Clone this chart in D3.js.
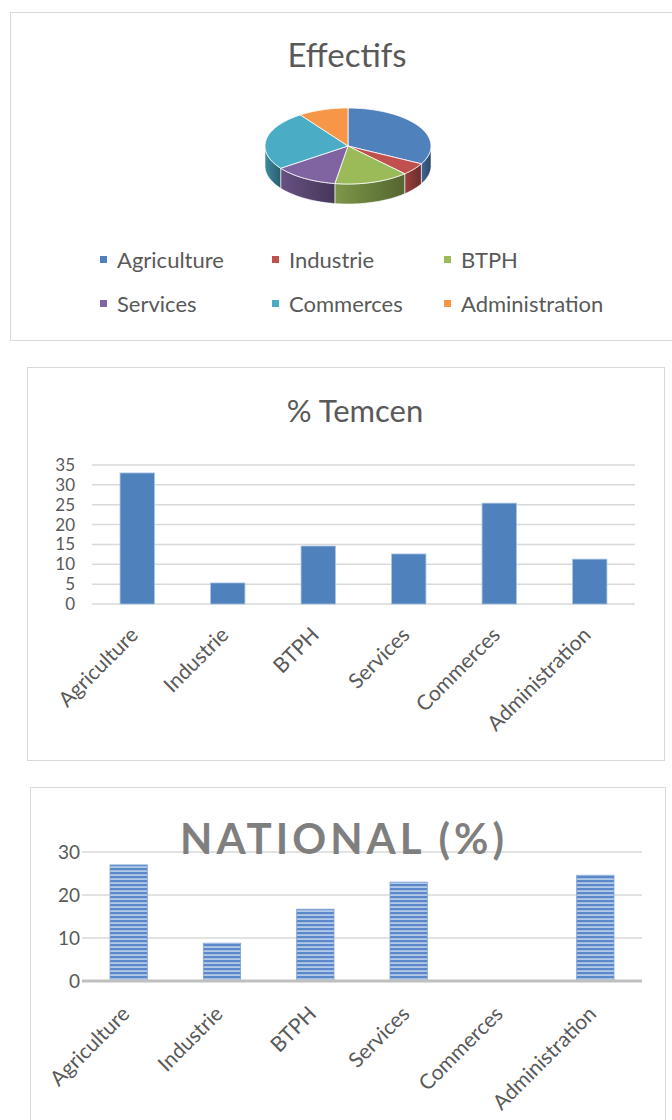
<!DOCTYPE html>
<html>
<head>
<meta charset="utf-8">
<script src="https://cdn.jsdelivr.net/npm/d3@7.9.0/dist/d3.min.js"></script>
<style>
  body { margin: 0; background: #fff; }
  text { font-family: Lato, "Open Sans", sans-serif; }
</style>
</head>
<body>
<svg id="page" width="672" height="1120"></svg>
<script>
const categories = ['Agriculture', 'Industrie', 'BTPH', 'Services', 'Commerces', 'Administration'];
const effectifs = [33, 5.3, 14.6, 12.6, 25.4, 9.8];
const tlemcen = [33, 5.3, 14.6, 12.6, 25.4, 11.3];
const national = [27, 8.8, 16.7, 23, 0, 24.6];
const tlemcenTicks = [0, 5, 10, 15, 20, 25, 30, 35];
const nationalTicks = [0, 10, 20, 30];
const pieColors = ['#4f81bd', '#c0504d', '#9bbb59', '#8064a2', '#4bacc6', '#f79646'];

const svg = d3.select('#page');
const defs = svg.append('defs');
const textCol = '#595959';
const gridCol = '#d9d9d9';

// frames
const frames = [[10, 12, 672, 340], [27, 367, 664, 760], [30, 787, 665, 1125]];
svg.selectAll('rect.frame')
  .data(frames)
  .join('rect')
  .attr('class', 'frame')
  .attr('x', d => d[0] + 0.5).attr('y', d => d[1] + 0.5)
  .attr('width', d => d[2] - d[0]).attr('height', d => d[3] - d[1])
  .attr('fill', '#fff').attr('stroke', gridCol);

// ---------- chart 1 : 3D pie ----------
svg.append('text').attr('x', 347).attr('y', 67).attr('text-anchor', 'middle')
  .attr('font-size', 33).attr('fill', textCol).text('Effectifs');

const cx = 348, cy = 146, rx = 83, ry = 38, depth = 20;
const pt = (a, dy = 0) => [cx + rx * Math.sin(a), cy - ry * Math.cos(a) + dy];
const arcPts = (s, e, dy) => d3.range(0, 41).map(i => pt(s + (e - s) * i / 40, dy));

const slices = d3.pie().sort(null).value(d => d)(effectifs);
const pie = svg.append('g');

// side walls (front half only)
slices.forEach((d, i) => {
  const s = Math.max(d.startAngle, Math.PI / 2), e = Math.min(d.endAngle, 3 * Math.PI / 2);
  if (e <= s) return;
  const c = d3.color(pieColors[i]);
  const g = defs.append('linearGradient').attr('id', 'side' + i);
  g.append('stop').attr('offset', 0).attr('stop-color', c.darker(0.6));
  g.append('stop').attr('offset', 1).attr('stop-color', c.darker(1.7));
  const pts = arcPts(s, e, 0).concat(arcPts(s, e, depth).reverse());
  pie.append('path').attr('d', 'M' + pts.join('L') + 'Z')
    .attr('fill', `url(#side${i})`).attr('stroke', '#fff').attr('stroke-width', 0.6);
});
// top faces
pie.selectAll('path.top')
  .data(slices)
  .join('path')
  .attr('class', 'top')
  .attr('d', d => 'M' + [[cx, cy]].concat(arcPts(d.startAngle, d.endAngle, 0)).join('L') + 'Z')
  .attr('fill', (d, i) => pieColors[i])
  .attr('stroke', '#fff').attr('stroke-width', 0.8);

// legend
const legend = svg.append('g').selectAll('g')
  .data(categories)
  .join('g')
  .attr('transform', (d, i) => `translate(${100 + (i % 3) * 172},${i < 3 ? 260 : 304})`);
legend.append('rect').attr('x', 0).attr('y', -4).attr('width', 7).attr('height', 7)
  .attr('fill', (d, i) => pieColors[i]);
legend.append('text').attr('x', 17).attr('y', 8).attr('font-size', 22)
  .attr('fill', textCol).text(d => d);

// ---------- bar chart helper ----------
function barChart(o) {
  const g = svg.append('g');
  const x = d3.scaleBand().domain(categories).range([o.x0, o.x1]).paddingInner(o.pad).paddingOuter(o.pad / 2);
  const y = d3.scaleLinear().domain([0, d3.max(o.ticks)]).range([o.y0, o.yTop]);
  g.append('g').selectAll('line')
    .data(o.ticks)
    .join('line')
    .attr('x1', o.x0).attr('x2', o.x1)
    .attr('y1', d => y(d)).attr('y2', d => y(d))
    .attr('stroke', gridCol).attr('stroke-width', 1.5);
  const yAxis = g.append('g').attr('transform', `translate(${o.labelX},0)`)
    .call(d3.axisLeft(y).tickValues(o.ticks).tickSize(0).tickPadding(0));
  yAxis.select('.domain').remove();
  yAxis.selectAll('text').attr('font-size', o.tickSize).attr('fill', textCol)
    .attr('font-family', 'Lato, sans-serif');
  g.append('g').selectAll('rect')
    .data(o.values)
    .join('rect')
    .attr('x', (d, i) => x(categories[i])).attr('width', x.bandwidth())
    .attr('y', d => y(d)).attr('height', d => y(0) - y(d))
    .attr('fill', o.fill).attr('stroke', o.stroke).attr('stroke-width', 0.8);
  if (o.axisLine) {
    g.append('line').attr('x1', o.x0).attr('x2', o.x1).attr('y1', y(0)).attr('y2', y(0))
      .attr('stroke', '#bfbfbf').attr('stroke-width', 3);
  }
  g.append('g').selectAll('text')
    .data(categories)
    .join('text')
    .attr('transform', d => `translate(${x(d) + x.bandwidth() / 2 + o.labDx},${o.labY}) rotate(-45)`)
    .attr('text-anchor', 'end').attr('dy', '0.35em')
    .attr('font-size', o.labSize).attr('fill', textCol)
    .text(d => d);
  return g;
}

// ---------- chart 2 ----------
svg.append('text').attr('x', 355).attr('y', 422).attr('text-anchor', 'middle')
  .attr('font-size', 31).attr('fill', textCol).text('% Temcen');
barChart({
  values: tlemcen, ticks: tlemcenTicks, x0: 92, x1: 635, y0: 604, yTop: 465,
  pad: 0.62, labelX: 75, tickSize: 17, fill: '#4f81bd', stroke: '#a9c4e6',
  labDx: -3, labY: 631, labSize: 21, axisLine: false
});

// ---------- chart 3 ----------
const pat = defs.append('pattern').attr('id', 'stripes').attr('patternUnits', 'userSpaceOnUse')
  .attr('width', 8).attr('height', 4);
pat.append('rect').attr('width', 8).attr('height', 4).attr('fill', '#b3c9e8');
pat.append('rect').attr('width', 8).attr('height', 2.2).attr('fill', '#5b88c9');

barChart({
  values: national, ticks: nationalTicks, x0: 82, x1: 642, y0: 981, yTop: 852,
  pad: 0.6, labelX: 80, tickSize: 19, fill: 'url(#stripes)', stroke: '#7ea3d6',
  labDx: -3, labY: 1010, labSize: 21, axisLine: true
});
svg.append('text').attr('x', 344).attr('y', 854).attr('text-anchor', 'middle')
  .attr('font-size', 42).attr('font-weight', 'bold').attr('letter-spacing', 4)
  .attr('fill', '#7f7f7f').text('NATIONAL (%)');
</script>
</body>
</html>
